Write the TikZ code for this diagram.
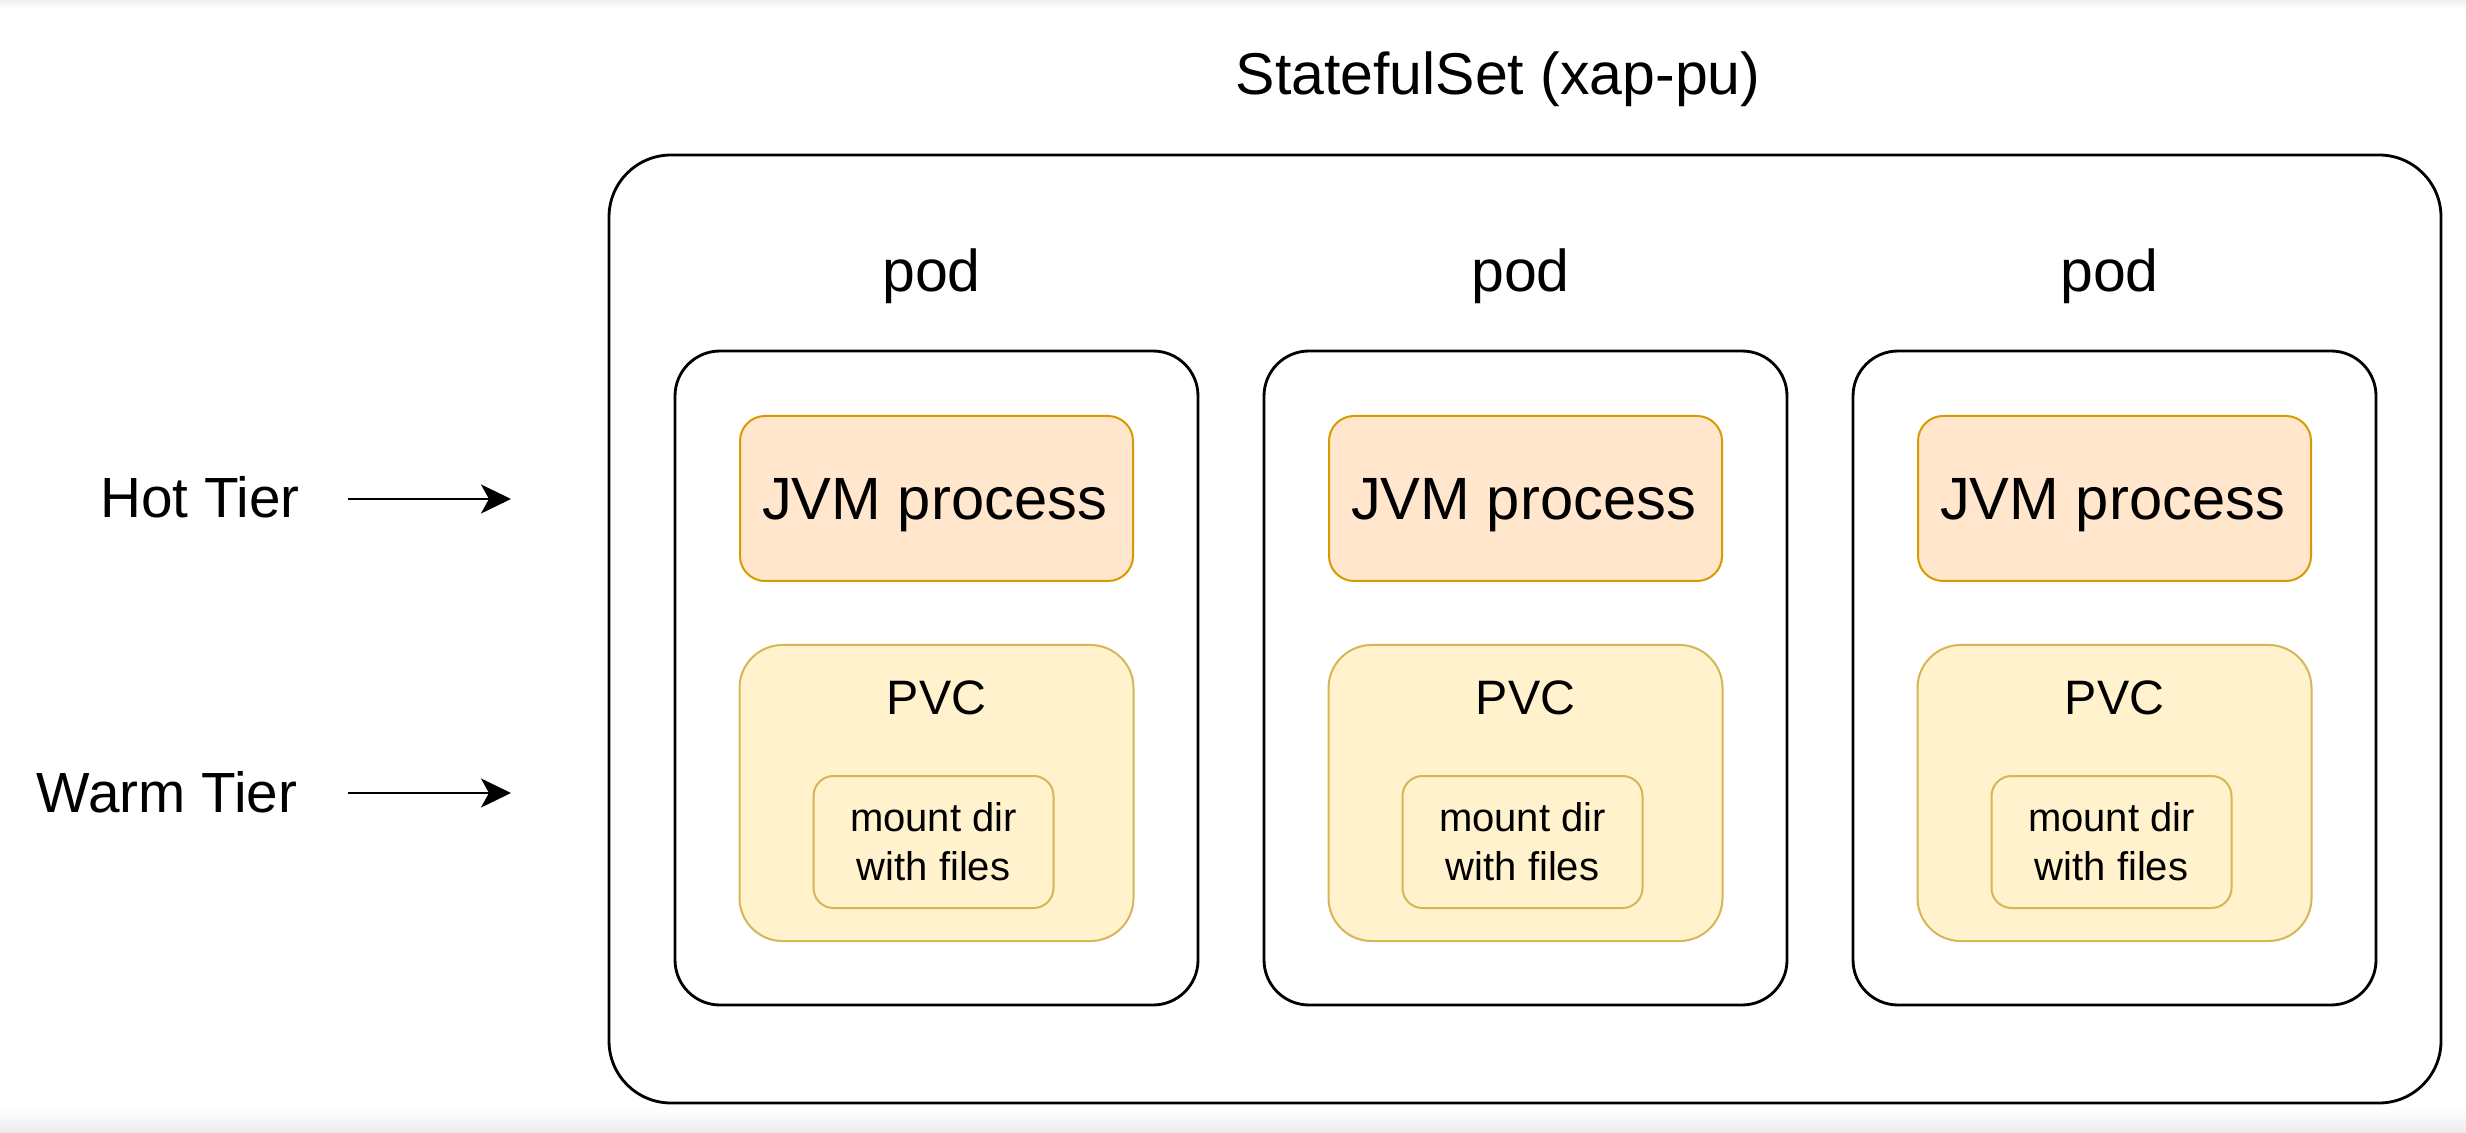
\documentclass[tikz,border=0pt]{standalone}
\usepackage{fontspec}
\setmainfont{Liberation Sans}
\usetikzlibrary{arrows.meta}
\definecolor{jvmfill}{HTML}{FFE6CC}
\definecolor{jvmdraw}{HTML}{D79B00}
\definecolor{pvcfill}{HTML}{FFF2CC}
\definecolor{pvcdraw}{HTML}{D6B656}
\definecolor{bandgray}{HTML}{EBEBEB}
\begin{document}
\begin{tikzpicture}[x=0.3pt,y=-0.3pt,
  outerbox/.style={draw=black,line width=0.85pt,rectangle,inner sep=0pt,outer sep=0pt,
    minimum width=549.6pt,minimum height=284.4pt,rounded corners=18.6pt},
  podbox/.style={draw=black,line width=0.85pt,rectangle,inner sep=0pt,outer sep=0pt,
    minimum width=156.9pt,minimum height=196.2pt,rounded corners=13.5pt},
  jvmbox/.style={draw=jvmdraw,fill=jvmfill,line width=0.6pt,rectangle,inner sep=0pt,outer sep=0pt,
    minimum width=117.9pt,minimum height=49.5pt,rounded corners=7.5pt},
  pvcbox/.style={draw=pvcdraw,fill=pvcfill,line width=0.6pt,rectangle,inner sep=0pt,outer sep=0pt,
    minimum width=118.2pt,minimum height=88.8pt,rounded corners=12.9pt},
  mountbox/.style={draw=pvcdraw,fill=pvcfill,line width=0.6pt,rectangle,inner sep=0pt,outer sep=0pt,
    minimum width=72pt,minimum height=39.6pt,rounded corners=6pt},
  bigtext/.style={inner sep=0pt,anchor=base,font=\fontsize{17.7pt}{21pt}\selectfont},
  tiertext/.style={inner sep=0pt,anchor=base,font=\fontsize{17pt}{20pt}\selectfont},
  jvmtext/.style={inner sep=0pt,anchor=base,font=\fontsize{17.9pt}{21pt}\selectfont},
  pvctext/.style={inner sep=0pt,anchor=base,font=\fontsize{14.5pt}{17pt}\selectfont},
  smalltext/.style={inner sep=0pt,anchor=base,font=\fontsize{12pt}{15pt}\selectfont},
  tierarrow/.style={line width=0.8pt,-{Stealth[length=9pt,width=8.7pt,inset=2.4pt]}}
]
\useasboundingbox (0,0) rectangle (2466,1133);
\fill[white] (0,0) rectangle (2466,1133);
\shade[top color=bandgray!70,bottom color=white] (0,0) rectangle (2466,9);
\shade[top color=white,bottom color=bandgray] (0,1108) rectangle (2466,1133);

% outer StatefulSet
\node[outerbox] (sts) at (1525,629) {};
\node[bigtext] (ststitle) at (1498,95) {StatefulSet (xap-pu)};

% pods
\foreach \i/\x in {1/936.5,2/1525.5,3/2114.5}{
  \node[bigtext] (podlabel\i) at (\x-5,292) {pod};
  \node[podbox] (pod\i) at (\x,678) {};
  \node[jvmbox] (jvm\i) at (\x,498.5) {};
  \node[jvmtext] (jvmlabel\i) at (\x-2,520) {JVM process};
  \node[pvcbox] (pvc\i) at (\x,793) {};
  \node[pvctext] (pvclabel\i) at (\x,714) {PVC};
  \node[mountbox] (mount\i) at (\x-3,842) {};
  \node[smalltext] (mountA\i) at (\x-3,831) {mount dir};
  \node[smalltext] (mountB\i) at (\x-3,880) {with files};
}

% tiers
\node[tiertext] (hot) at (200,518) {Hot Tier};
\node[tiertext] (warm) at (167,812) {Warm Tier};
\coordinate (hotS) at (348,499);
\coordinate (hotE) at (511,499);
\coordinate (warmS) at (348,793);
\coordinate (warmE) at (511,793);
\draw[tierarrow] (hotS) -- (hotE);
\draw[tierarrow] (warmS) -- (warmE);
\end{tikzpicture}
\end{document}
